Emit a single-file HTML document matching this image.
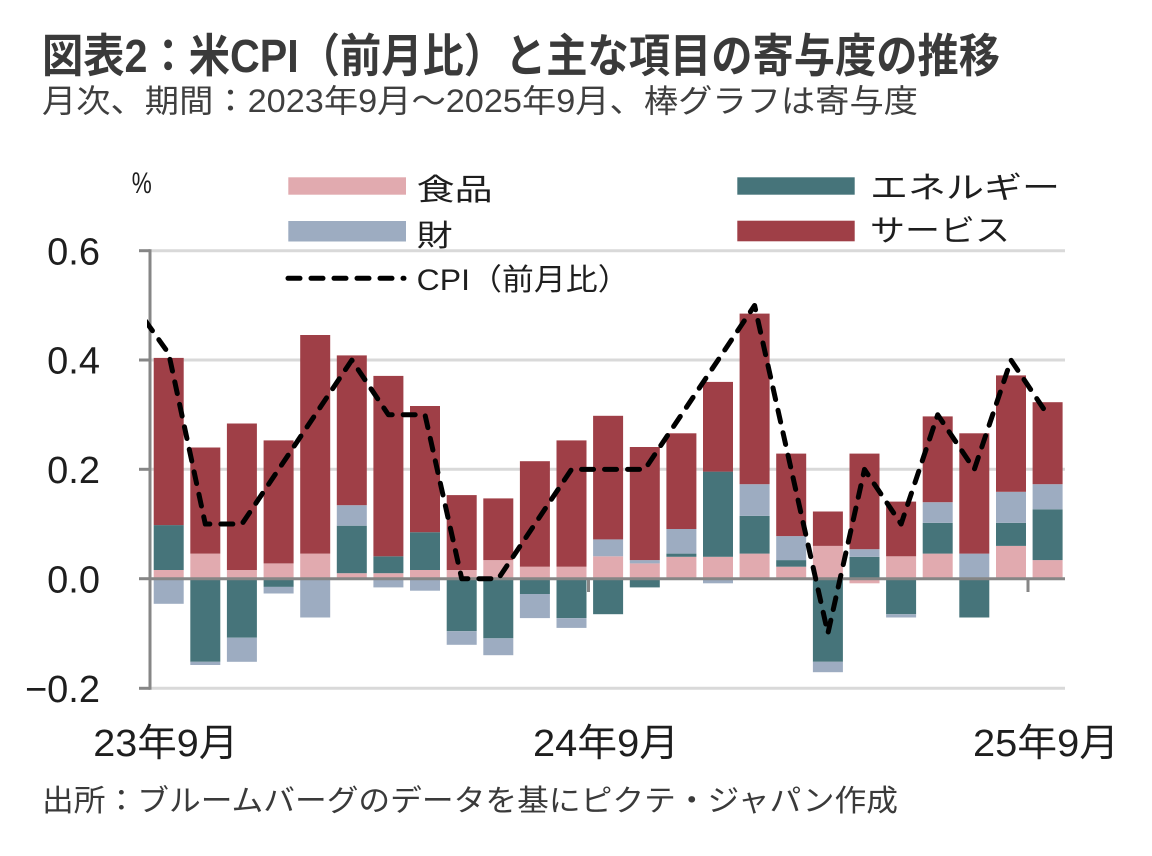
<!DOCTYPE html>
<html>
<head>
<meta charset="utf-8">
<style>
  html,body{margin:0;padding:0;background:#fff;}
  svg{display:block;}
  text{font-family:"Liberation Sans","Noto Sans CJK JP",sans-serif;}
</style>
</head>
<body>
<svg width="1152" height="856" viewBox="0 0 1152 856" xmlns="http://www.w3.org/2000/svg">
  <rect x="0" y="0" width="1152" height="856" fill="#ffffff"/>

  <!-- Title -->
  <text x="42" y="72" font-size="46" font-weight="bold" fill="#3a3a3a" textLength="958" lengthAdjust="spacingAndGlyphs">図表2：米CPI（前月比）と主な項目の寄与度の推移</text>
  <text x="42" y="112" font-size="32" fill="#3f3f3f" textLength="876" lengthAdjust="spacingAndGlyphs">月次、期間：2023年9月～2025年9月、棒グラフは寄与度</text>

  <!-- Gridlines -->
  <g stroke="#d9d9d9" stroke-width="3">
    <line x1="150" y1="250.7" x2="1065" y2="250.7"/>
    <line x1="150" y1="360" x2="1065" y2="360"/>
    <line x1="150" y1="469.3" x2="1065" y2="469.3"/>
    <line x1="150" y1="688.3" x2="1065" y2="688.3"/>
  </g>

  <!-- Bars -->
  <g>
    <g transform="translate(153.7,0)">
      <rect x="0" width="30" y="570.0" height="8.7" fill="#e1aaaf"/>
      <rect x="0" width="30" y="525.1" height="44.9" fill="#46747a"/>
      <rect x="0" width="30" y="357.9" height="167.2" fill="#9f3f47"/>
      <rect x="0" width="30" y="578.7" height="25.1" fill="#9dacc1"/>
    </g>
    <g transform="translate(190.3,0)">
      <rect x="0" width="30" y="553.6" height="25.1" fill="#e1aaaf"/>
      <rect x="0" width="30" y="447.5" height="106.1" fill="#9f3f47"/>
      <rect x="0" width="30" y="578.7" height="83.1" fill="#46747a"/>
      <rect x="0" width="30" y="661.8" height="3.2" fill="#9dacc1"/>
    </g>
    <g transform="translate(226.9,0)">
      <rect x="0" width="30" y="570.0" height="8.7" fill="#e1aaaf"/>
      <rect x="0" width="30" y="423.5" height="146.5" fill="#9f3f47"/>
      <rect x="0" width="30" y="578.7" height="59.0" fill="#46747a"/>
      <rect x="0" width="30" y="637.7" height="24.1" fill="#9dacc1"/>
    </g>
    <g transform="translate(263.6,0)">
      <rect x="0" width="30" y="563.4" height="15.3" fill="#e1aaaf"/>
      <rect x="0" width="30" y="440.4" height="123" fill="#9f3f47"/>
      <rect x="0" width="30" y="578.7" height="8.2" fill="#46747a"/>
      <rect x="0" width="30" y="586.9" height="6.6" fill="#9dacc1"/>
    </g>
    <g transform="translate(300.2,0)">
      <rect x="0" width="30" y="553.6" height="25.1" fill="#e1aaaf"/>
      <rect x="0" width="30" y="335.0" height="218.6" fill="#9f3f47"/>
      <rect x="0" width="30" y="578.7" height="38.8" fill="#9dacc1"/>
    </g>
    <g transform="translate(336.8,0)">
      <rect x="0" width="30" y="573.2" height="5.5" fill="#e1aaaf"/>
      <rect x="0" width="30" y="525.7" height="47.5" fill="#46747a"/>
      <rect x="0" width="30" y="505.2" height="20.5" fill="#9dacc1"/>
      <rect x="0" width="30" y="355.4" height="149.8" fill="#9f3f47"/>
    </g>
    <g transform="translate(373.4,0)">
      <rect x="0" width="30" y="573.2" height="5.5" fill="#e1aaaf"/>
      <rect x="0" width="30" y="556.3" height="16.9" fill="#46747a"/>
      <rect x="0" width="30" y="375.9" height="180.4" fill="#9f3f47"/>
      <rect x="0" width="30" y="578.7" height="8.7" fill="#9dacc1"/>
    </g>
    <g transform="translate(410.0,0)">
      <rect x="0" width="30" y="570.0" height="8.7" fill="#e1aaaf"/>
      <rect x="0" width="30" y="532.2" height="37.8" fill="#46747a"/>
      <rect x="0" width="30" y="406.0" height="126.2" fill="#9f3f47"/>
      <rect x="0" width="30" y="578.7" height="12" fill="#9dacc1"/>
    </g>
    <g transform="translate(446.7,0)">
      <rect x="0" width="30" y="570.0" height="8.7" fill="#e1aaaf"/>
      <rect x="0" width="30" y="495.1" height="74.9" fill="#9f3f47"/>
      <rect x="0" width="30" y="578.7" height="52.5" fill="#46747a"/>
      <rect x="0" width="30" y="631.2" height="13.6" fill="#9dacc1"/>
    </g>
    <g transform="translate(483.3,0)">
      <rect x="0" width="30" y="560.1" height="18.6" fill="#e1aaaf"/>
      <rect x="0" width="30" y="498.4" height="61.7" fill="#9f3f47"/>
      <rect x="0" width="30" y="578.7" height="59.6" fill="#46747a"/>
      <rect x="0" width="30" y="638.3" height="16.9" fill="#9dacc1"/>
    </g>
    <g transform="translate(519.9,0)">
      <rect x="0" width="30" y="566.7" height="12" fill="#e1aaaf"/>
      <rect x="0" width="30" y="461.2" height="105.5" fill="#9f3f47"/>
      <rect x="0" width="30" y="578.7" height="15.3" fill="#46747a"/>
      <rect x="0" width="30" y="594.0" height="24.1" fill="#9dacc1"/>
    </g>
    <g transform="translate(556.5,0)">
      <rect x="0" width="30" y="566.7" height="12" fill="#e1aaaf"/>
      <rect x="0" width="30" y="440.4" height="126.3" fill="#9f3f47"/>
      <rect x="0" width="30" y="578.7" height="39.4" fill="#46747a"/>
      <rect x="0" width="30" y="618.1" height="9.8" fill="#9dacc1"/>
    </g>
    <g transform="translate(593.1,0)">
      <rect x="0" width="30" y="556.3" height="22.4" fill="#e1aaaf"/>
      <rect x="0" width="30" y="539.4" height="16.9" fill="#9dacc1"/>
      <rect x="0" width="30" y="415.8" height="123.6" fill="#9f3f47"/>
      <rect x="0" width="30" y="578.7" height="35.5" fill="#46747a"/>
    </g>
    <g transform="translate(629.8,0)">
      <rect x="0" width="30" y="563.4" height="15.3" fill="#e1aaaf"/>
      <rect x="0" width="30" y="560.1" height="3.3" fill="#9dacc1"/>
      <rect x="0" width="30" y="447.0" height="113.1" fill="#9f3f47"/>
      <rect x="0" width="30" y="578.7" height="8.7" fill="#46747a"/>
    </g>
    <g transform="translate(666.4,0)">
      <rect x="0" width="30" y="556.8" height="21.9" fill="#e1aaaf"/>
      <rect x="0" width="30" y="553.6" height="3.2" fill="#46747a"/>
      <rect x="0" width="30" y="529.0" height="24.6" fill="#9dacc1"/>
      <rect x="0" width="30" y="433.3" height="95.7" fill="#9f3f47"/>
    </g>
    <g transform="translate(703.0,0)">
      <rect x="0" width="30" y="556.8" height="21.9" fill="#e1aaaf"/>
      <rect x="0" width="30" y="471.6" height="85.2" fill="#46747a"/>
      <rect x="0" width="30" y="381.9" height="89.7" fill="#9f3f47"/>
      <rect x="0" width="30" y="578.7" height="4.6" fill="#9dacc1"/>
    </g>
    <g transform="translate(739.6,0)">
      <rect x="0" width="30" y="553.6" height="25.1" fill="#e1aaaf"/>
      <rect x="0" width="30" y="515.9" height="37.7" fill="#46747a"/>
      <rect x="0" width="30" y="484.2" height="31.7" fill="#9dacc1"/>
      <rect x="0" width="30" y="313.6" height="170.6" fill="#9f3f47"/>
    </g>
    <g transform="translate(776.2,0)">
      <rect x="0" width="30" y="566.7" height="12" fill="#e1aaaf"/>
      <rect x="0" width="30" y="560.1" height="6.6" fill="#46747a"/>
      <rect x="0" width="30" y="536.1" height="24" fill="#9dacc1"/>
      <rect x="0" width="30" y="453.6" height="82.5" fill="#9f3f47"/>
    </g>
    <g transform="translate(812.9,0)">
      <rect x="0" width="30" y="545.9" height="32.8" fill="#e1aaaf"/>
      <rect x="0" width="30" y="511.5" height="34.4" fill="#9f3f47"/>
      <rect x="0" width="30" y="578.7" height="83.1" fill="#46747a"/>
      <rect x="0" width="30" y="661.8" height="10.4" fill="#9dacc1"/>
    </g>
    <g transform="translate(849.5,0)">
      <rect x="0" width="30" y="556.8" height="21.9" fill="#46747a"/>
      <rect x="0" width="30" y="549.2" height="7.6" fill="#9dacc1"/>
      <rect x="0" width="30" y="453.6" height="95.6" fill="#9f3f47"/>
      <rect x="0" width="30" y="578.7" height="4.6" fill="#e1aaaf"/>
    </g>
    <g transform="translate(886.1,0)">
      <rect x="0" width="30" y="556.3" height="22.4" fill="#e1aaaf"/>
      <rect x="0" width="30" y="501.6" height="54.7" fill="#9f3f47"/>
      <rect x="0" width="30" y="578.7" height="35.5" fill="#46747a"/>
      <rect x="0" width="30" y="614.2" height="3.3" fill="#9dacc1"/>
    </g>
    <g transform="translate(922.7,0)">
      <rect x="0" width="30" y="553.6" height="25.1" fill="#e1aaaf"/>
      <rect x="0" width="30" y="522.9" height="30.7" fill="#46747a"/>
      <rect x="0" width="30" y="502.2" height="20.7" fill="#9dacc1"/>
      <rect x="0" width="30" y="416.4" height="85.8" fill="#9f3f47"/>
    </g>
    <g transform="translate(959.3,0)">
      <rect x="0" width="30" y="553.6" height="25.1" fill="#9dacc1"/>
      <rect x="0" width="30" y="433.3" height="120.3" fill="#9f3f47"/>
      <rect x="0" width="30" y="578.7" height="38.8" fill="#46747a"/>
    </g>
    <g transform="translate(996.0,0)">
      <rect x="0" width="30" y="545.9" height="32.8" fill="#e1aaaf"/>
      <rect x="0" width="30" y="522.9" height="23" fill="#46747a"/>
      <rect x="0" width="30" y="491.8" height="31.1" fill="#9dacc1"/>
      <rect x="0" width="30" y="375.4" height="116.4" fill="#9f3f47"/>
    </g>
    <g transform="translate(1032.6,0)">
      <rect x="0" width="30" y="560.1" height="18.6" fill="#e1aaaf"/>
      <rect x="0" width="30" y="509.3" height="50.8" fill="#46747a"/>
      <rect x="0" width="30" y="484.2" height="25.1" fill="#9dacc1"/>
      <rect x="0" width="30" y="402.2" height="82" fill="#9f3f47"/>
    </g>
  </g>

  <!-- Axes -->
  <g stroke="#868686" stroke-width="3">
    <line x1="150" y1="249.2" x2="150" y2="689.8"/>
    <line x1="139" y1="250.7" x2="150" y2="250.7"/>
    <line x1="139" y1="360" x2="150" y2="360"/>
    <line x1="139" y1="469.3" x2="150" y2="469.3"/>
    <line x1="139" y1="578.7" x2="150" y2="578.7"/>
    <line x1="139" y1="688.3" x2="150" y2="688.3"/>
    <line x1="150" y1="578.7" x2="1065" y2="578.7"/>
    <line x1="150" y1="578.7" x2="150" y2="592"/>
    <line x1="588.5" y1="578.7" x2="588.5" y2="592"/>
    <line x1="1028" y1="578.7" x2="1028" y2="592"/>
  </g>

  <!-- CPI line -->
  <defs>
    <clipPath id="plotclip">
      <rect x="147" y="240" width="920" height="460"/>
    </clipPath>
  </defs>
  <polyline clip-path="url(#plotclip)" fill="none" stroke="#000" stroke-width="5" stroke-linecap="round" stroke-linejoin="round" stroke-dasharray="12 11"
    points="132.1,302.2 168.7,353.5 205.3,524.05 241.9,524.05 278.6,469.4 315.2,414.75 351.8,360.1 388.4,414.75 425.0,414.75 461.7,578.7 498.3,578.7 534.9,524.05 571.5,469.4 608.1,469.4 644.8,469.4 681.4,414.75 718.0,360.1 754.6,305.45 791.2,469.4 827.9,633.35 864.5,469.4 901.1,524.05 937.7,414.75 974.3,469.4 1011.0,360.1 1047.6,414.75"/>

  <!-- Y labels -->
  <g font-size="38" fill="#1e1e1e" text-anchor="end">
    <text x="100" y="264.3">0.6</text>
    <text x="100" y="373.6">0.4</text>
    <text x="100" y="482.9">0.2</text>
    <text x="100" y="592.3">0.0</text>
    <text x="100" y="701.9">−0.2</text>
  </g>
  <text x="131.7" y="193" font-size="30" fill="#1e1e1e" textLength="20" lengthAdjust="spacingAndGlyphs">%</text>

  <!-- X labels -->
  <g font-size="38" fill="#1e1e1e">
    <text x="93.3" y="756" textLength="145" lengthAdjust="spacingAndGlyphs">23年9月</text>
    <text x="533" y="756" textLength="146" lengthAdjust="spacingAndGlyphs">24年9月</text>
    <text x="973" y="756" textLength="146" lengthAdjust="spacingAndGlyphs">25年9月</text>
  </g>

  <!-- Legend -->
  <rect x="288.3" y="177.3" width="117.7" height="17.4" fill="#e1aaaf"/>
  <text x="416.7" y="200" font-size="30" fill="#1e1e1e" textLength="76" lengthAdjust="spacingAndGlyphs">食品</text>
  <rect x="288.3" y="221" width="117.7" height="20.5" fill="#9dacc1"/>
  <text x="416.7" y="246" font-size="30" fill="#1e1e1e" textLength="36" lengthAdjust="spacingAndGlyphs">財</text>
  <line x1="288" y1="278.3" x2="404" y2="278.3" stroke="#000" stroke-width="5" stroke-linecap="round" stroke-dasharray="12 11"/>
  <text x="416.7" y="290" font-size="30" fill="#1e1e1e" textLength="213" lengthAdjust="spacingAndGlyphs">CPI（前月比）</text>
  <rect x="737.3" y="177.3" width="117.4" height="17.4" fill="#46747a"/>
  <text x="870" y="198" font-size="30" fill="#1e1e1e" textLength="190" lengthAdjust="spacingAndGlyphs">エネルギー</text>
  <rect x="737.3" y="220.7" width="117.4" height="20.6" fill="#9f3f47"/>
  <text x="870" y="241" font-size="30" fill="#1e1e1e" textLength="140" lengthAdjust="spacingAndGlyphs">サービス</text>

  <!-- Footer -->
  <text x="42" y="811" font-size="30" fill="#3a3a3a" textLength="856" lengthAdjust="spacingAndGlyphs">出所：ブルームバーグのデータを基にピクテ・ジャパン作成</text>
</svg>
</body>
</html>
